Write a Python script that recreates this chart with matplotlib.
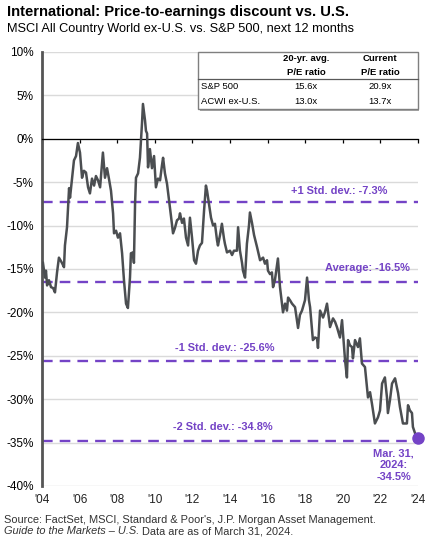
import matplotlib.pyplot as plt
from matplotlib.patches import Rectangle

plt.rcParams['font.family'] = ['Liberation Sans', 'DejaVu Sans']

# P/E discount of ACWI ex-U.S. vs. S&P 500 (%)
years = [
    2004.05, 2004.16, 2004.21, 2004.27, 2004.37, 2004.48, 2004.59, 2004.69, 2004.80, 2004.90,
    2005.06, 2005.17, 2005.22, 2005.33, 2005.44, 2005.49, 2005.60, 2005.70, 2005.81, 2005.91,
    2006.02, 2006.13, 2006.23, 2006.34, 2006.45, 2006.55, 2006.66, 2006.77, 2006.87, 2006.98,
    2007.09, 2007.24, 2007.35, 2007.46, 2007.56, 2007.67, 2007.78, 2007.83, 2007.94, 2008.04,
    2008.15, 2008.26, 2008.36, 2008.47, 2008.57, 2008.68, 2008.73, 2008.84, 2008.89, 2008.95,
    2009.00, 2009.11, 2009.21, 2009.32, 2009.37, 2009.48, 2009.53, 2009.59, 2009.64, 2009.74,
    2009.85, 2009.96, 2010.06, 2010.17, 2010.28, 2010.38, 2010.44, 2010.54, 2010.65, 2010.76,
    2010.86, 2010.97, 2011.07, 2011.18, 2011.29, 2011.34, 2011.45, 2011.55, 2011.66, 2011.77,
    2011.87, 2011.98, 2012.09, 2012.19, 2012.30, 2012.40, 2012.51, 2012.62, 2012.72, 2012.78,
    2012.88, 2012.99, 2013.10, 2013.20, 2013.31, 2013.36, 2013.47, 2013.57, 2013.68, 2013.73,
    2013.84, 2014.00, 2014.11, 2014.21, 2014.37, 2014.43, 2014.53, 2014.64, 2014.69, 2014.80,
    2014.90, 2015.01, 2015.06, 2015.17, 2015.28, 2015.44, 2015.60, 2015.76, 2015.86, 2015.97,
    2016.02, 2016.13, 2016.23, 2016.29, 2016.39, 2016.55, 2016.66, 2016.82, 2016.93, 2017.03,
    2017.09, 2017.19, 2017.30, 2017.46, 2017.62, 2017.72, 2017.83, 2017.99, 2018.10, 2018.20,
    2018.26, 2018.41, 2018.52, 2018.63, 2018.68, 2018.79, 2018.95, 2019.05, 2019.16, 2019.32,
    2019.48, 2019.59, 2019.69, 2019.85, 2019.96, 2020.12, 2020.22, 2020.28, 2020.38, 2020.49,
    2020.54, 2020.65, 2020.81, 2020.91, 2021.02, 2021.18, 2021.34, 2021.45, 2021.55, 2021.71,
    2021.87, 2021.98, 2022.09, 2022.24, 2022.35, 2022.40, 2022.51, 2022.62, 2022.78, 2022.94,
    2023.04, 2023.20, 2023.41, 2023.47, 2023.57, 2023.68, 2023.73, 2023.84, 2024.00,
]
discount = [
    -14.3, -16.0, -15.2, -16.9, -16.3, -17.1, -17.2, -17.7, -15.4, -13.7,
    -14.3, -14.8, -12.3, -10.2, -5.7, -6.8, -4.5, -2.5, -2.0, -0.5,
    -1.6, -4.5, -3.7, -3.9, -5.6, -6.3, -4.6, -5.4, -4.3, -4.8,
    -5.6, -1.6, -4.5, -3.4, -4.6, -6.0, -8.6, -10.9, -10.6, -11.4,
    -10.9, -13.2, -16.3, -19.0, -19.5, -16.0, -13.2, -13.1, -14.3, -7.5,
    -4.5, -4.0, -2.2, 1.8, 4.0, 2.1, 0.9, 0.6, -3.3, -1.2,
    -3.4, -2.0, -5.6, -4.6, -4.8, -3.1, -2.2, -4.0, -5.2, -7.1,
    -8.9, -10.9, -10.3, -9.4, -9.2, -8.6, -9.7, -9.2, -11.4, -12.3,
    -9.1, -11.4, -14.0, -14.4, -12.9, -12.3, -12.0, -8.3, -5.4, -6.0,
    -7.5, -9.1, -10.0, -9.8, -11.7, -12.3, -11.1, -9.8, -11.5, -12.1,
    -13.1, -12.9, -13.4, -12.9, -12.9, -10.2, -12.9, -14.3, -15.2, -16.0,
    -12.1, -10.0, -8.5, -9.7, -11.1, -12.5, -14.0, -13.7, -14.4, -14.0,
    -15.2, -15.6, -15.4, -17.1, -16.3, -13.8, -17.1, -20.0, -19.0, -19.8,
    -18.3, -18.6, -19.0, -19.4, -21.8, -20.3, -19.8, -18.6, -16.0, -18.6,
    -19.4, -23.2, -22.9, -23.0, -24.1, -19.8, -20.6, -20.0, -19.0, -21.7,
    -20.7, -21.1, -21.7, -22.9, -20.9, -25.5, -27.5, -23.2, -23.8, -24.0,
    -25.3, -23.2, -24.0, -23.0, -25.9, -26.3, -29.8, -29.2, -30.5, -32.8,
    -32.1, -31.3, -28.2, -27.5, -29.8, -31.6, -30.1, -28.2, -27.6, -29.3,
    -30.9, -32.8, -32.8, -30.7, -31.3, -31.6, -33.2, -33.9, -34.5,
]

# reference levels
ref_names = ["+1 Std. dev.", "Average", "-1 Std. dev.", "-2 Std. dev."]
ref_values = [-7.3, -16.5, -25.6, -34.8]

# table
table_rows = ["S&P 500", "ACWI ex-U.S."]
avg_pe = ["15.6x", "13.0x"]
current_pe = ["20.9x", "13.7x"]

x_ticks = list(range(2004, 2025, 2))
x_labels = ["'04", "'06", "'08", "'10", "'12", "'14", "'16", "'18", "'20", "'22", "'24"]
y_ticks = list(range(-40, 11, 5))

purple = "#7443C6"
gray_line = "#4B4E51"

fig = plt.figure(figsize=(4.38, 5.51), dpi=100)
ax = fig.add_axes([0.0959, 0.118, 0.8584, 0.7879])

ax.set_xlim(2004, 2024)
ax.set_ylim(-40, 10)
ax.set_yticks(y_ticks)
ax.set_yticklabels([f"{v}%" for v in y_ticks], fontsize=8.5)
ax.tick_params(axis='y', length=0, pad=6)
ax.yaxis.grid(True, color='#DADADA', lw=1)
ax.set_axisbelow(True)

for s in ['top', 'right']:
    ax.spines[s].set_visible(False)
ax.spines['left'].set_color('#555555')
ax.spines['left'].set_linewidth(2)
# x-axis sits at 0% with small ticks, labels below
ax.spines['bottom'].set_position(('data', 0))
ax.spines['bottom'].set_color('black')
ax.spines['bottom'].set_linewidth(0.9)
ax.set_xticks(x_ticks)
ax.tick_params(axis='x', direction='out', length=3, width=0.9, labelbottom=False)

sec = ax.secondary_xaxis(0.0)
sec.set_xticks(x_ticks)
sec.set_xticklabels(x_labels, fontsize=8.5, color='#222222')
sec.tick_params(length=0, pad=6)
sec.spines['bottom'].set_visible(False)

for name, val in zip(ref_names, ref_values):
    ax.axhline(val, color=purple, lw=1.7, dashes=(4.5, 3), zorder=2)

ax.plot(years, discount, color=gray_line, lw=1.8, zorder=3)
ax.plot(years[-1], discount[-1], 'o', color=purple, ms=8, zorder=4, clip_on=False)

lab_kw = dict(color=purple, fontsize=7.9, fontweight='bold', ha='center', va='center')
ax.text(2019.8, -6.0, f"{ref_names[0]}: {ref_values[0]}%", **lab_kw)
ax.text(2021.3, -14.9, f"{ref_names[1]}: {ref_values[1]}%", **lab_kw)
ax.text(2013.7, -24.1, f"{ref_names[2]}: {ref_values[2]}%", **lab_kw)
ax.text(2013.6, -33.2, f"{ref_names[3]}: {ref_values[3]}%", **lab_kw)
ax.text(2022.7, -37.6, f"Mar. 31,\n2024:\n{discount[-1]}%", color=purple,
        fontsize=7.9, fontweight='bold', ha='center', va='center', linespacing=1.2)

# P/E table box in the top right corner
shadow = Rectangle((0.419, 0.864), 0.585, 0.136, transform=ax.transAxes,
                   facecolor='#A6A6A6', edgecolor='none', zorder=5, clip_on=False)
box = Rectangle((0.415, 0.868), 0.585, 0.132, transform=ax.transAxes,
                facecolor='white', edgecolor='#7F7F7F', lw=1, zorder=6, clip_on=False)
ax.add_patch(shadow)
ax.add_patch(box)
ax.plot([0.415, 1.0], [0.937, 0.937], transform=ax.transAxes, color='#595959',
        lw=0.9, zorder=7, clip_on=False)
tk = dict(transform=ax.transAxes, fontsize=6.8, zorder=8, va='center')
ax.text(0.702, 0.985, "20-yr. avg.", ha='center', fontweight='bold', **tk)
ax.text(0.702, 0.953, "P/E ratio", ha='center', fontweight='bold', **tk)
ax.text(0.899, 0.985, "Current", ha='center', fontweight='bold', **tk)
ax.text(0.899, 0.953, "P/E ratio", ha='center', fontweight='bold', **tk)
for i, (r, a, c) in enumerate(zip(table_rows, avg_pe, current_pe)):
    yy = 0.921 - i * 0.035
    ax.text(0.424, yy, r, ha='left', **tk)
    ax.text(0.702, yy, a, ha='center', **tk)
    ax.text(0.899, yy, c, ha='center', **tk)

fig.text(0.016, 0.978, "International: Price-to-earnings discount vs. U.S.",
         fontsize=10.6, fontweight='bold', va='center')
fig.text(0.016, 0.947, "MSCI All Country World ex-U.S. vs. S&P 500, next 12 months",
         fontsize=9.2, va='center')

fig.text(0.009, 0.056, "Source: FactSet, MSCI, Standard & Poor's, J.P. Morgan Asset Management.",
         fontsize=7.9, va='center', color='#333333')
t1 = fig.text(0.009, 0.036, "Guide to the Markets \u2013 U.S.", fontsize=7.9, va='center',
              style='italic', color='#333333')
fig.canvas.draw()
bb = t1.get_window_extent(fig.canvas.get_renderer())
x_next = bb.x1 / fig.bbox.width
fig.text(x_next, 0.036, " Data are as of March 31, 2024.", fontsize=7.9, va='center',
         color='#333333')

fig.savefig("out.png", dpi=100)
